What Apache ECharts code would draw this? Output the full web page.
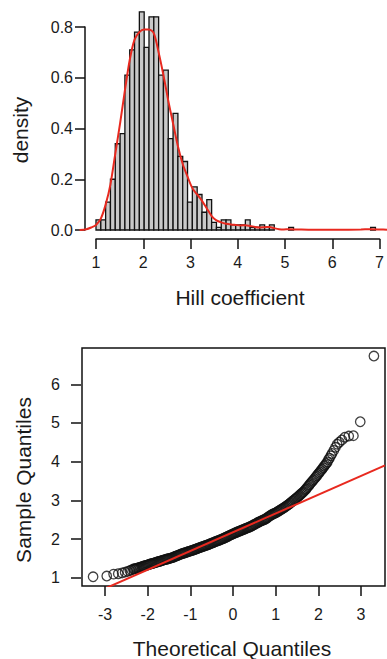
<!DOCTYPE html>
<html>
<head>
<meta charset="utf-8">
<script src="https://cdn.jsdelivr.net/npm/echarts@6/dist/echarts.min.js"></script>
<style>
  html, body { margin: 0; padding: 0; background: #fff; }
  #main { width: 387px; height: 659px; }
</style>
</head>
<body>
<div id="main"></div>
<script>
// histogram: left edge of each non-empty bin (width 0.1) and its density
var binWidth = 0.1;
var binStart = [1.0, 1.1, 1.2, 1.3, 1.4, 1.5, 1.6, 1.7, 1.8, 1.9,
                2.0, 2.1, 2.2, 2.3, 2.4, 2.5, 2.6, 2.7, 2.8, 2.9,
                3.0, 3.1, 3.2, 3.3, 3.4, 3.5, 3.6, 3.7, 3.8, 3.9,
                4.0, 4.1, 4.2, 4.3, 4.4, 4.5, 4.6, 5.0, 6.7];
var binDensity = [0.04, 0.04, 0.11, 0.20, 0.34, 0.38, 0.61, 0.71, 0.78, 0.86,
                  0.72, 0.84, 0.84, 0.61, 0.63, 0.36, 0.46, 0.29, 0.27, 0.11,
                  0.17, 0.14, 0.07, 0.12, 0.03, 0.01, 0.04, 0.04, 0.02, 0.02,
                  0.02, 0.04, 0.01, 0.01, 0.02, 0.01, 0.02, 0.01, 0.01];

// kernel density curve
var densX = [0.66, 0.8, 0.9, 1.0, 1.1, 1.2, 1.3, 1.4, 1.5, 1.6, 1.7, 1.8, 1.9, 2.0, 2.1,
             2.2, 2.3, 2.4, 2.5, 2.6, 2.7, 2.8, 2.9, 3.0, 3.1, 3.2, 3.3, 3.4, 3.5, 3.6,
             3.7, 3.8, 3.9, 4.0, 4.1, 4.2, 4.3, 4.4, 4.5, 4.6, 4.7, 4.8, 4.9, 5.0, 5.2,
             5.5, 6.0, 6.5, 6.7, 6.9, 7.04];
var densY = [0.0, 0.003, 0.01, 0.02, 0.045, 0.10, 0.18, 0.30, 0.42, 0.55, 0.67, 0.75, 0.78, 0.79, 0.79,
             0.775, 0.70, 0.61, 0.51, 0.42, 0.33, 0.26, 0.21, 0.165, 0.14, 0.115, 0.085, 0.055, 0.038, 0.03,
             0.025, 0.022, 0.02, 0.018, 0.019, 0.016, 0.012, 0.01, 0.011, 0.012, 0.007, 0.003, 0.002, 0.003, 0.002,
             0.001, 0.001, 0.002, 0.003, 0.002, 0.001];

var histTicks = [1, 2, 3, 4, 5, 6, 7];

// normal QQ plot (theoretical quantile, sample quantile)
var qqTheoretical = [-3.29, -2.97, -2.81, -2.70, -2.61, -2.54, -2.48, -2.43, -2.39,
  -2.35, -2.325, -2.30, -2.275, -2.25, -2.225, -2.20, -2.175, -2.15, -2.125,
  -2.10, -2.075, -2.05, -2.025, -2.00, -1.975, -1.95, -1.925, -1.90, -1.875,
  -1.85, -1.825, -1.80, -1.775, -1.75, -1.725, -1.70, -1.675, -1.65, -1.625,
  -1.60, -1.575, -1.55, -1.525, -1.50, -1.475, -1.45, -1.425, -1.40, -1.375,
  -1.35, -1.325, -1.30, -1.275, -1.25, -1.225, -1.20, -1.175, -1.15, -1.125,
  -1.10, -1.075, -1.05, -1.025, -1.00, -0.975, -0.95, -0.925, -0.90, -0.875,
  -0.85, -0.825, -0.80, -0.775, -0.75, -0.725, -0.70, -0.675, -0.65, -0.625,
  -0.60, -0.575, -0.55, -0.525, -0.50, -0.475, -0.45, -0.425, -0.40, -0.375,
  -0.35, -0.325, -0.30, -0.275, -0.25, -0.225, -0.20, -0.175, -0.15, -0.125,
  -0.10, -0.075, -0.05, -0.025, 0.00, 0.025, 0.05, 0.075, 0.10, 0.125,
  0.15, 0.175, 0.20, 0.225, 0.25, 0.275, 0.30, 0.325, 0.35, 0.375,
  0.40, 0.425, 0.45, 0.475, 0.50, 0.525, 0.55, 0.575, 0.60, 0.625,
  0.65, 0.675, 0.70, 0.725, 0.75, 0.775, 0.80, 0.825, 0.85, 0.875,
  0.90, 0.925, 0.95, 0.975, 1.00, 1.025, 1.05, 1.075, 1.10, 1.125,
  1.15, 1.175, 1.20, 1.225, 1.25, 1.275, 1.30, 1.325, 1.35, 1.375,
  1.40, 1.425, 1.45, 1.475, 1.50, 1.525, 1.55, 1.575, 1.60, 1.625,
  1.65, 1.675, 1.70, 1.725, 1.75, 1.775, 1.80, 1.825, 1.85, 1.875,
  1.90, 1.925, 1.95, 1.975, 2.00, 2.025, 2.05, 2.075, 2.10, 2.125,
  2.15, 2.175, 2.20, 2.225, 2.25, 2.28, 2.31, 2.35, 2.39, 2.43,
  2.48, 2.54, 2.61, 2.70, 2.81, 2.97, 3.29];
var qqSample = [1.01, 1.03, 1.08, 1.09, 1.11, 1.13, 1.15, 1.17, 1.19,
  1.21, 1.215, 1.22, 1.228, 1.235, 1.243, 1.25, 1.26, 1.27, 1.28,
  1.29, 1.298, 1.305, 1.313, 1.32, 1.33, 1.34, 1.348, 1.355, 1.363,
  1.37, 1.38, 1.39, 1.398, 1.405, 1.413, 1.42, 1.43, 1.44, 1.448,
  1.455, 1.463, 1.47, 1.478, 1.485, 1.493, 1.50, 1.51, 1.52, 1.533,
  1.545, 1.555, 1.565, 1.578, 1.59, 1.60, 1.61, 1.618, 1.625, 1.635,
  1.645, 1.655, 1.665, 1.673, 1.68, 1.69, 1.70, 1.71, 1.72, 1.73,
  1.74, 1.75, 1.76, 1.77, 1.78, 1.79, 1.80, 1.81, 1.82, 1.83,
  1.84, 1.85, 1.86, 1.873, 1.885, 1.895, 1.905, 1.918, 1.93, 1.94,
  1.95, 1.96, 1.97, 1.983, 1.995, 2.008, 2.02, 2.033, 2.045, 2.06,
  2.075, 2.088, 2.10, 2.113, 2.125, 2.138, 2.15, 2.163, 2.175, 2.185,
  2.195, 2.208, 2.22, 2.23, 2.24, 2.253, 2.265, 2.275, 2.285, 2.298,
  2.31, 2.325, 2.34, 2.355, 2.37, 2.385, 2.40, 2.415, 2.43, 2.443,
  2.455, 2.468, 2.48, 2.493, 2.505, 2.525, 2.545, 2.565, 2.585, 2.603,
  2.62, 2.633, 2.645, 2.658, 2.67, 2.688, 2.705, 2.723, 2.74, 2.758,
  2.775, 2.793, 2.81, 2.83, 2.85, 2.87, 2.89, 2.913, 2.935, 2.958,
  2.98, 3.003, 3.025, 3.048, 3.07, 3.095, 3.12, 3.145, 3.17, 3.195,
  3.22, 3.25, 3.28, 3.315, 3.35, 3.385, 3.42, 3.453, 3.485, 3.518,
  3.55, 3.585, 3.62, 3.655, 3.69, 3.725, 3.76, 3.795, 3.83, 3.87,
  3.905, 3.94, 3.98, 4.04, 4.08, 4.14, 4.20, 4.28, 4.36, 4.44,
  4.49, 4.55, 4.62, 4.65, 4.66, 5.02, 6.72];

// reference line through the quartiles
var qqLineX = [-3.55, 3.55];
var qqLineY = [0.446, 3.89];

var qqXTicks = [-3, -2, -1, 0, 1, 2, 3];
var qqYTicks = [1, 2, 3, 4, 5, 6];

var ink = '#111';
var red = '#e8291f';
var font = '"Liberation Sans", Arial, Helvetica, sans-serif';

function hiddenAxis(grid, min, max) {
    return { type: 'value', gridIndex: grid, min: min, max: max, show: false };
}

function tickAxis(grid, ticks, position, margin, showLine, digits) {
    return {
        type: 'value',
        gridIndex: grid,
        position: position,
        min: ticks[0],
        max: ticks[ticks.length - 1],
        interval: ticks[1] - ticks[0],
        splitLine: { show: false },
        axisLine: { show: showLine, lineStyle: { color: ink, width: 1.5 } },
        axisTick: { show: true, length: 10, lineStyle: { color: ink, width: 1.5 } },
        axisLabel: {
            margin: margin,
            color: '#1a1a1a',
            fontSize: 16,
            fontFamily: font,
            showMinLabel: true,
            showMaxLabel: true,
            formatter: function (v) { return digits ? v.toFixed(digits) : String(v); }
        }
    };
}

function title(text, x, y, vertical) {
    return {
        type: 'text', x: x, y: y,
        rotation: vertical ? Math.PI / 2 : 0,
        style: { text: text, font: '21px ' + font, fill: '#1a1a1a', textAlign: 'center', textVerticalAlign: 'middle' }
    };
}

var histData = binStart.map(function (x, i) { return [x, binDensity[i]]; });
var densData = densX.map(function (x, i) { return [x, densY[i]]; });
var qqData = qqTheoretical.map(function (x, i) { return [x, qqSample[i]]; });
var qqLineData = qqLineX.map(function (x, i) { return [x, qqLineY[i]]; });

var myChart = echarts.init(document.getElementById('main'), null, { renderer: 'svg' });

myChart.setOption({
    animation: false,
    backgroundColor: '#fff',
    grid: [
        { left: 80, top: 27, width: 307, height: 203 },          // histogram data
        { left: 96, top: 238, width: 289, height: 1 },           // histogram x axis
        { left: 85, top: 27, width: 1, height: 203 },            // histogram y axis
        { left: 82, top: 348, width: 303, height: 238, show: true,
          borderColor: ink, borderWidth: 1.5, backgroundColor: 'transparent' }, // qq data
        { left: 105, top: 585, width: 256, height: 1 },          // qq x ticks
        { left: 81, top: 384.3, width: 1, height: 193.4 }        // qq y ticks
    ],
    xAxis: [
        hiddenAxis(0, 0.668, 7.04),
        tickAxis(1, histTicks, 'bottom', 15, true, 0),
        hiddenAxis(2, 0, 1),
        hiddenAxis(3, -3.55, 3.55),
        tickAxis(4, qqXTicks, 'bottom', 20, false, 0),
        hiddenAxis(5, 0, 1)
    ],
    yAxis: [
        hiddenAxis(0, 0, 0.8),
        hiddenAxis(1, 0, 1),
        tickAxis(2, [0, 0.2, 0.4, 0.6, 0.8], 'left', 12, true, 1),
        hiddenAxis(3, 0.772, 6.928),
        hiddenAxis(4, 0, 1),
        tickAxis(5, qqYTicks, 'left', 21, false, 0)
    ],
    graphic: [
        title('Hill coefficient', 240, 297, false),
        title('density', 20, 130, true),
        title('Theoretical Quantiles', 232, 648, false),
        title('Sample Quantiles', 23, 480, true)
    ],
    series: [
        {
            type: 'custom',
            xAxisIndex: 0,
            yAxisIndex: 0,
            clip: false,
            data: histData,
            renderItem: function (params, api) {
                var x0 = api.value(0);
                var h = api.value(1);
                if (!h) return null;
                var p0 = api.coord([x0, 0]);
                var p1 = api.coord([x0 + binWidth, h]);
                return {
                    type: 'rect',
                    shape: { x: p0[0], y: p1[1], width: p1[0] - p0[0], height: p0[1] - p1[1] },
                    style: { fill: '#c9c9c9', stroke: ink, lineWidth: 1.3 }
                };
            }
        },
        {
            type: 'line',
            xAxisIndex: 0,
            yAxisIndex: 0,
            clip: false,
            smooth: 0.3,
            symbol: 'none',
            data: densData,
            lineStyle: { color: red, width: 2 }
        },
        {
            type: 'scatter',
            xAxisIndex: 3,
            yAxisIndex: 3,
            symbol: 'circle',
            symbolSize: 9.5,
            data: qqData,
            itemStyle: { color: 'rgba(0,0,0,0)', borderColor: ink, borderWidth: 1.3 }
        },
        {
            type: 'line',
            xAxisIndex: 3,
            yAxisIndex: 3,
            symbol: 'none',
            data: qqLineData,
            lineStyle: { color: red, width: 2 }
        }
    ]
});
</script>
</body>
</html>
